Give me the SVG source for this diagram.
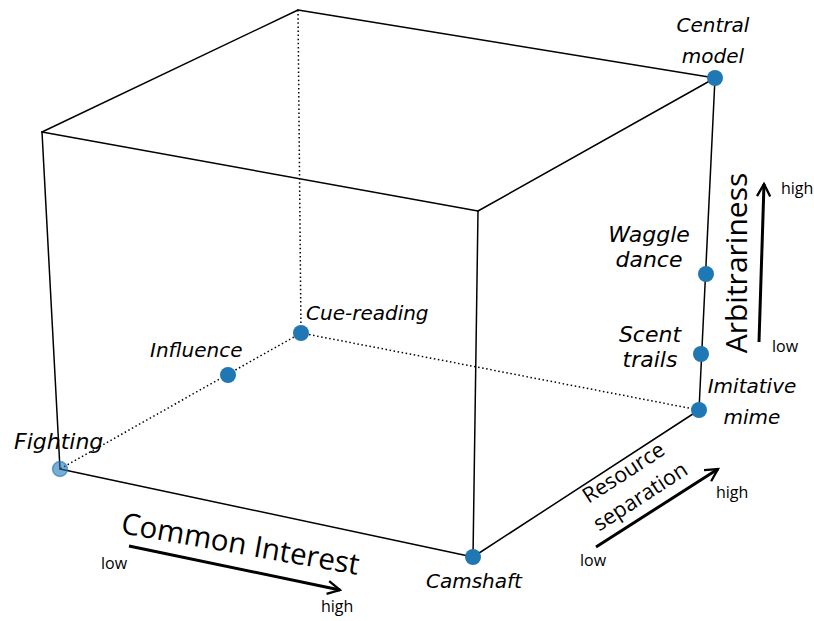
<svg xmlns="http://www.w3.org/2000/svg" width="814" height="621" viewBox="0 0 814 621">
  <defs>
    <style>
      .edge { stroke: #000; stroke-width: 1.5; fill: none; stroke-linecap: round; }
      .hidden { stroke: #000; stroke-width: 1.5; fill: none; stroke-dasharray: 1.5 2.6; }
      .axis { stroke: #000; stroke-width: 3; fill: none; marker-end: url(#chevron); }
      .pt { fill: #1f77b4; }
      .lbl { font-family: "DejaVu Sans", sans-serif; font-style: italic; font-size: 20px; fill: #000; }
      .big { font-size: 22px; }
      .ax { font-family: "Open Sans", "Liberation Sans", sans-serif; fill: #000; }
      .small { font-size: 16px; }
    </style>
    <marker id="chevron" viewBox="0 0 10 10" refX="8.5" refY="5" markerWidth="5.5" markerHeight="5.5" orient="auto" markerUnits="strokeWidth">
      <path d="M1,1 L8.5,5 L1,9" fill="none" stroke="#000" stroke-width="1.4" stroke-linejoin="miter"/>
    </marker>
  </defs>

  <rect width="814" height="621" fill="#fff"/>

  <!-- cube edges -->
  <g id="connectors">
    <line class="hidden" x1="298" y1="10" x2="301" y2="333"/>
    <line class="hidden" x1="301" y1="333" x2="60" y2="469"/>
    <line class="hidden" x1="301" y1="333" x2="699" y2="410"/>
    <line class="edge" x1="298" y1="10" x2="42" y2="132"/>
    <line class="edge" x1="298" y1="10" x2="715" y2="78"/>
    <line class="edge" x1="42" y1="132" x2="478" y2="211"/>
    <line class="edge" x1="478" y1="211" x2="715" y2="78"/>
    <line class="edge" x1="42" y1="132" x2="60" y2="469"/>
    <line class="edge" x1="478" y1="211" x2="473" y2="557"/>
    <line class="edge" x1="715" y1="78" x2="699" y2="410"/>
    <line class="edge" x1="60" y1="469" x2="473" y2="557"/>
    <line class="edge" x1="473" y1="557" x2="699" y2="410"/>
  </g>

  <!-- signalling systems -->
  <g id="fighting">
    <circle cx="60" cy="469" r="7.5" fill="#1f77b4" fill-opacity="0.6" stroke="#1f77b4" stroke-opacity="0.6" stroke-width="1.5"/>
    <text class="lbl big" x="14" y="449">Fighting</text>
  </g>
  <g id="influence">
    <circle class="pt" cx="228" cy="375" r="8"/>
    <text class="lbl" x="150" y="357">Influence</text>
  </g>
  <g id="cue-reading">
    <circle class="pt" cx="301" cy="333" r="8"/>
    <text class="lbl" x="306" y="320">Cue-reading</text>
  </g>
  <g id="camshaft">
    <circle class="pt" cx="473" cy="557" r="8"/>
    <text class="lbl" x="426" y="588">Camshaft</text>
  </g>
  <g id="imitative-mime">
    <circle class="pt" cx="699" cy="410" r="8"/>
    <text class="lbl" x="752" y="393" text-anchor="middle">Imitative</text>
    <text class="lbl" x="752" y="424" text-anchor="middle">mime</text>
  </g>
  <g id="scent-trails">
    <circle class="pt" cx="701" cy="354" r="8"/>
    <text class="lbl big" x="650" y="342" text-anchor="middle">Scent</text>
    <text class="lbl big" x="650" y="367" text-anchor="middle">trails</text>
  </g>
  <g id="waggle-dance">
    <circle class="pt" cx="706" cy="274" r="8"/>
    <text class="lbl big" x="649" y="242" text-anchor="middle">Waggle</text>
    <text class="lbl big" x="649" y="267" text-anchor="middle">dance</text>
  </g>
  <g id="central-model">
    <circle class="pt" cx="715" cy="78" r="8"/>
    <text class="lbl" x="713" y="32" text-anchor="middle">Central</text>
    <text class="lbl" x="713" y="63" text-anchor="middle">model</text>
  </g>

  <!-- axis: common interest -->
  <g id="axis-common-interest">
    <line class="axis" x1="129" y1="546" x2="340" y2="590"/>
    <text class="ax" font-size="29.5" transform="translate(120,533) rotate(10)">Common Interest</text>
    <text class="ax small" x="101" y="569">low</text>
    <text class="ax small" x="321" y="612">high</text>
  </g>

  <!-- axis: resource separation -->
  <g id="axis-resource-separation">
    <line class="axis" x1="596" y1="547" x2="718" y2="469"/>
    <g transform="translate(636,490) rotate(-33)">
      <text class="ax" font-size="21.5" x="-1" y="-14" text-anchor="middle">Resource</text>
      <text class="ax" font-size="21.5" x="0" y="15" text-anchor="middle">separation</text>
    </g>
    <text class="ax small" x="716" y="498">high</text>
    <text class="ax small" x="580" y="566">low</text>
  </g>

  <!-- axis: arbitrariness -->
  <g id="axis-arbitrariness">
    <line class="axis" x1="759" y1="342" x2="764" y2="184"/>
    <text class="ax" font-size="30" text-anchor="middle" transform="translate(747,263) rotate(-90)">Arbitrariness</text>
    <text class="ax small" x="781" y="194">high</text>
    <text class="ax small" x="772" y="352">low</text>
  </g>
</svg>
